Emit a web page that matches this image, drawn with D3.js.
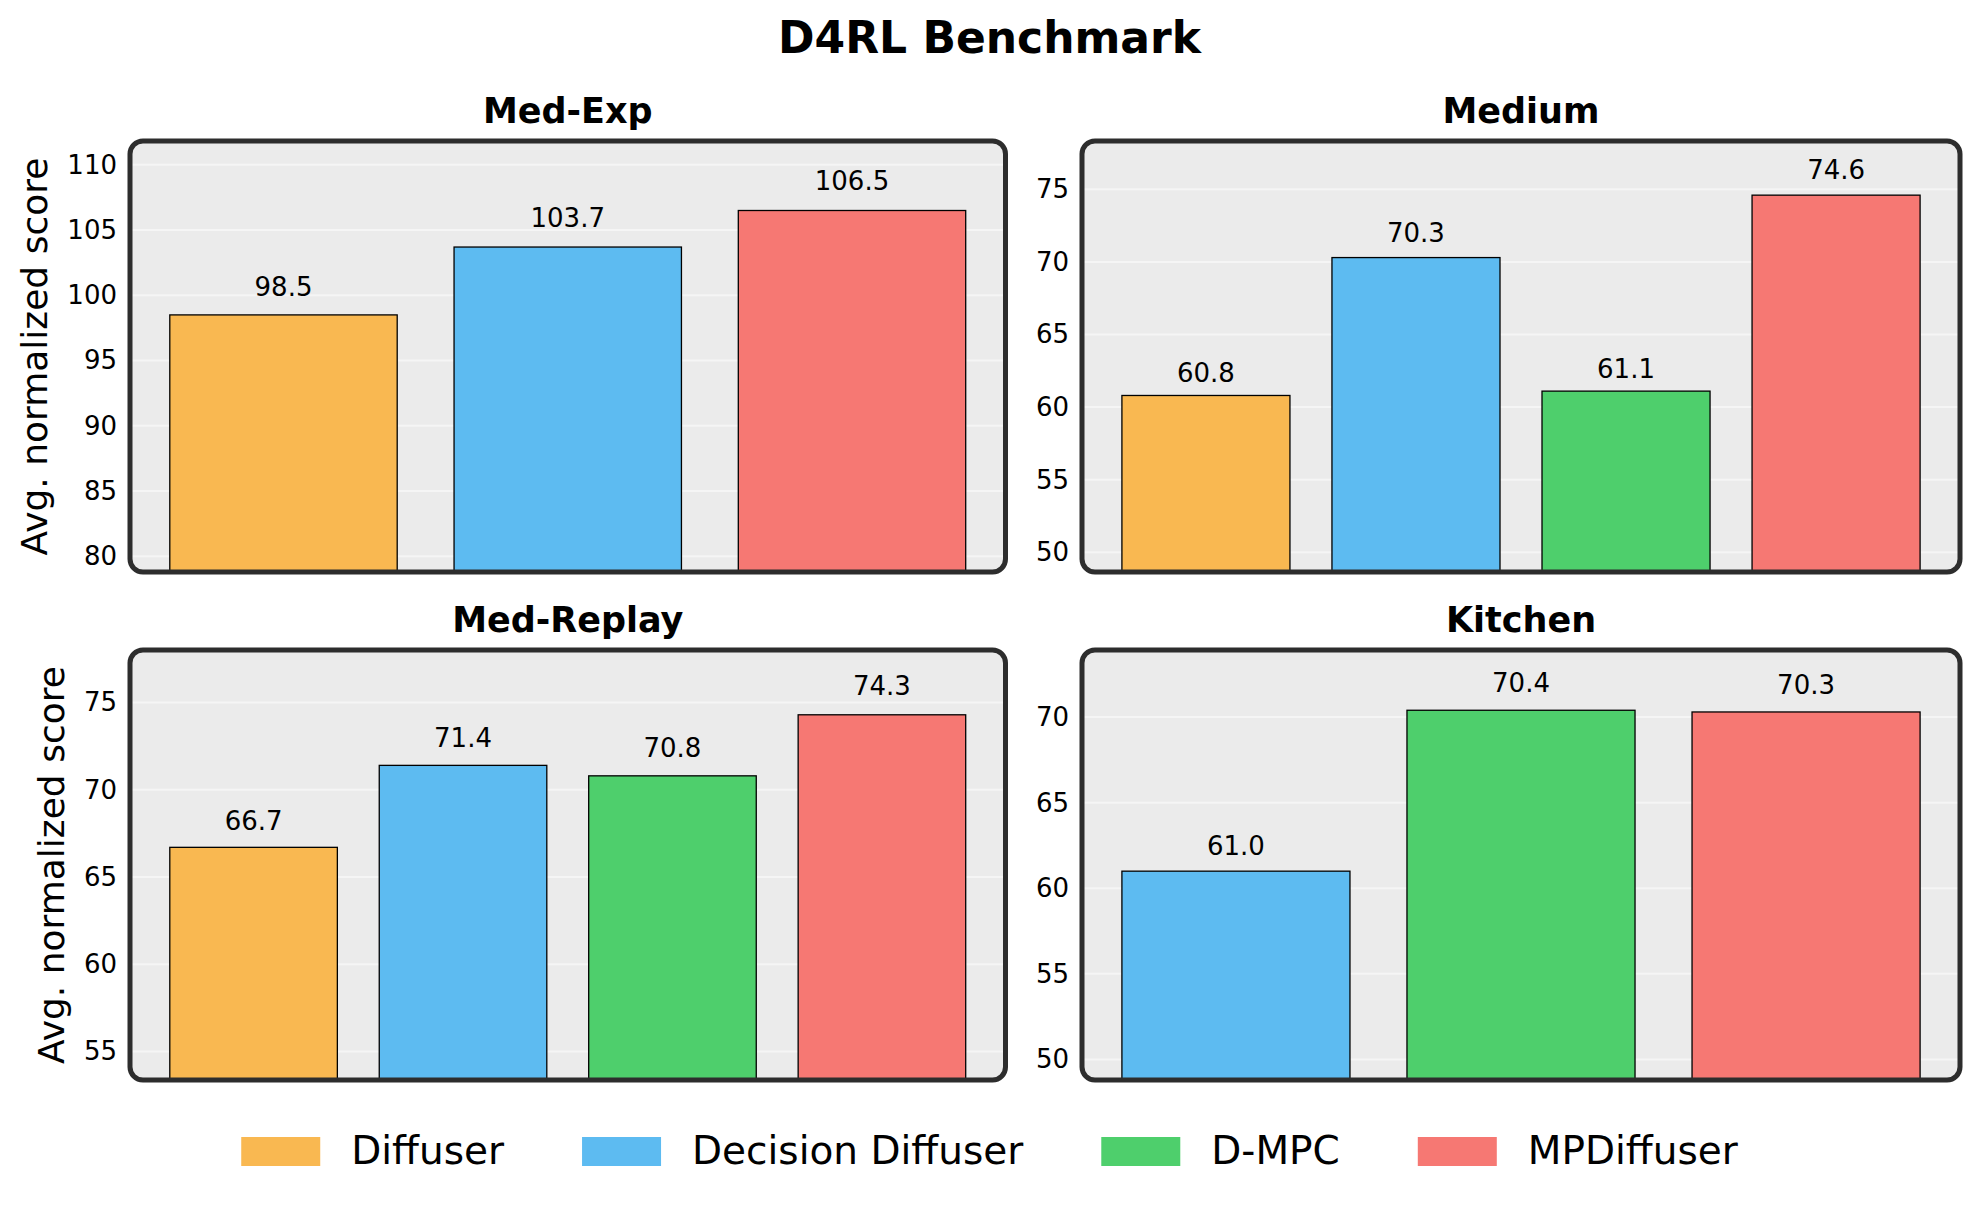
<!DOCTYPE html>
<html>
<head>
<meta charset="utf-8">
<script src="https://cdn.jsdelivr.net/npm/d3@7"></script>
<style>
  body { margin: 0; background: #fff; }
  svg { display: block; font-family: "DejaVu Sans", sans-serif; }
</style>
</head>
<body>
<div id="chart"></div>
<script>
// legend / series
const methods = ["Diffuser", "Decision Diffuser", "D-MPC", "MPDiffuser"];
const methodColors = ["#f9b851", "#5dbbf1", "#4ecf6c", "#f67873"];

// panel data
const medExpMethods = ["Diffuser", "Decision Diffuser", "MPDiffuser"];
const medExpScores = [98.5, 103.7, 106.5];

const mediumMethods = ["Diffuser", "Decision Diffuser", "D-MPC", "MPDiffuser"];
const mediumScores = [60.8, 70.3, 61.1, 74.6];

const medReplayMethods = ["Diffuser", "Decision Diffuser", "D-MPC", "MPDiffuser"];
const medReplayScores = [66.7, 71.4, 70.8, 74.3];

const kitchenMethods = ["Decision Diffuser", "D-MPC", "MPDiffuser"];
const kitchenScores = [61.0, 70.4, 70.3];

const W = 1979, H = 1209;
const color = d3.scaleOrdinal().domain(methods).range(methodColors);
const fmt = d3.format(".1f");

const svg = d3.select("#chart").append("svg")
    .attr("width", W)
    .attr("height", H);

svg.append("rect").attr("width", W).attr("height", H).attr("fill", "#fff");

// main title
svg.append("text")
    .attr("x", W / 2)
    .attr("y", 53)
    .attr("text-anchor", "middle")
    .style("font-size", "44px")
    .style("font-weight", "bold")
    .text("D4RL Benchmark");

const panels = [
    {title: "Med-Exp", names: medExpMethods, values: medExpScores, x0: 130, x1: 1005.5, y0: 141, y1: 572, ylabel: true},
    {title: "Medium", names: mediumMethods, values: mediumScores, x0: 1082, x1: 1960, y0: 141, y1: 572, ylabel: false},
    {title: "Med-Replay", names: medReplayMethods, values: medReplayScores, x0: 130, x1: 1005.5, y0: 650, y1: 1080, ylabel: true},
    {title: "Kitchen", names: kitchenMethods, values: kitchenScores, x0: 1082, x1: 1960, y0: 650, y1: 1080, ylabel: false}
];

panels.forEach(p => drawPanel(p));

function drawPanel(p) {
    const n = p.names.length;
    const g = svg.append("g");

    // matplotlib-like limits: 0.8*min .. 1.05*max, 5% x margins
    const y = d3.scaleLinear()
        .domain([d3.min(p.values) * 0.8, d3.max(p.values) * 1.05])
        .range([p.y1, p.y0]);
    const x = d3.scaleBand()
        .domain(p.names)
        .range([p.x0, p.x1])
        .paddingInner(0.2)
        .paddingOuter(0.05 * (n - 0.2));

    // background
    g.append("rect")
        .attr("x", p.x0).attr("y", p.y0)
        .attr("width", p.x1 - p.x0).attr("height", p.y1 - p.y0)
        .attr("rx", 13).attr("ry", 13)
        .attr("fill", "#ebebeb");

    const [lo, hi] = y.domain();
    const ticks = d3.range(Math.ceil(lo / 5) * 5, hi, 5);

    // grid
    g.append("g")
        .selectAll("line")
        .data(ticks)
        .enter().append("line")
        .attr("x1", p.x0 + 2).attr("x2", p.x1 - 2)
        .attr("y1", d => y(d)).attr("y2", d => y(d))
        .attr("stroke", "#f5f5f5")
        .attr("stroke-width", 2);

    // y axis (labels only)
    const axis = g.append("g")
        .attr("transform", `translate(${p.x0},0)`)
        .call(d3.axisLeft(y).tickValues(ticks).tickSize(0).tickPadding(13).tickFormat(d3.format("d")));
    axis.select(".domain").remove();
    axis.selectAll("text")
        .style("font-size", "26px")
        .style("font-family", "DejaVu Sans, sans-serif")
        .attr("fill", "#000");

    // bars
    g.append("g")
        .selectAll("rect")
        .data(p.names.map((name, i) => ({name, value: p.values[i]})))
        .enter().append("rect")
        .attr("x", d => x(d.name))
        .attr("y", d => y(d.value))
        .attr("width", x.bandwidth())
        .attr("height", d => y(lo) - y(d.value))
        .attr("fill", d => color(d.name))
        .attr("stroke", "#000")
        .attr("stroke-width", 1.3);

    // value labels
    g.append("g")
        .selectAll("text")
        .data(p.names.map((name, i) => ({name, value: p.values[i]})))
        .enter().append("text")
        .attr("x", d => x(d.name) + x.bandwidth() / 2)
        .attr("y", d => y(d.value * 1.015))
        .attr("text-anchor", "middle")
        .style("font-size", "26px")
        .text(d => fmt(d.value));

    // frame
    g.append("rect")
        .attr("x", p.x0).attr("y", p.y0)
        .attr("width", p.x1 - p.x0).attr("height", p.y1 - p.y0)
        .attr("rx", 13).attr("ry", 13)
        .attr("fill", "none")
        .attr("stroke", "#2d2d2d")
        .attr("stroke-width", 5);

    // panel title
    g.append("text")
        .attr("x", (p.x0 + p.x1) / 2)
        .attr("y", p.y0 - 18)
        .attr("text-anchor", "middle")
        .style("font-size", "35px")
        .style("font-weight", "bold")
        .text(p.title);

    if (p.ylabel) {
        let maxW = 0;
        axis.selectAll("text").each(function() {
            maxW = Math.max(maxW, this.getComputedTextLength());
        });
        const lx = p.x0 - 13 - maxW - 20;
        g.append("text")
            .attr("transform", `translate(${lx},${(p.y0 + p.y1) / 2}) rotate(-90)`)
            .attr("text-anchor", "middle")
            .style("font-size", "36px")
            .text("Avg. normalized score");
    }
}

// legend
const legend = svg.append("g");
const items = legend.selectAll("g")
    .data(methods)
    .enter().append("g");

items.append("rect")
    .attr("width", 79).attr("height", 29)
    .attr("y", 1137)
    .attr("fill", d => color(d));

items.append("text")
    .attr("x", 110)
    .attr("y", 1164)
    .style("font-size", "39px")
    .text(d => d);

let cursor = 0;
items.each(function() {
    const tw = d3.select(this).select("text").node().getComputedTextLength();
    d3.select(this).attr("transform", `translate(${cursor},0)`);
    cursor += 110 + tw + 78;
});
const totalW = cursor - 78;
legend.attr("transform", `translate(${(W - totalW) / 2},0)`);
</script>
</body>
</html>
